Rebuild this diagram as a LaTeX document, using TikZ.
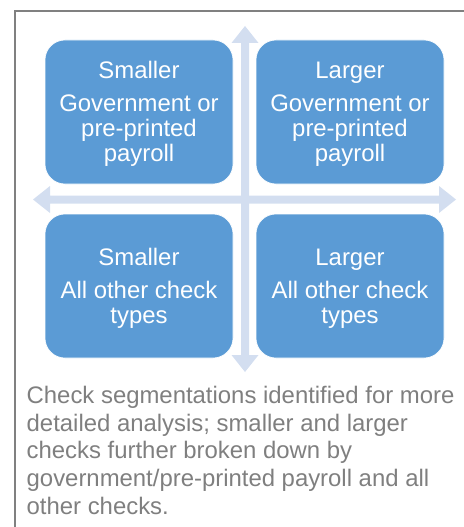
\documentclass[tikz,border=0pt]{standalone}
\usepackage{fontspec}
\setmainfont{Liberation Sans}
\definecolor{boxblue}{HTML}{5B9BD5}
\definecolor{axisblue}{HTML}{D3DEF0}
\definecolor{framegray}{HTML}{808080}
\definecolor{captiongray}{HTML}{7F7F7F}
\newcommand{\toppad}{\rule{0pt}{21.5pt}}
\tikzset{
  quadbox/.style={fill=boxblue, draw=white, line width=0.6pt, rounded corners=20pt,
    minimum width=188pt, minimum height=144pt, inner sep=0pt, text=white,
    align=center, font=\fontsize{23.9}{25}\selectfont},
  axisarrow/.style={fill=axisblue, draw=none},
  framerule/.style={draw=framegray, line width=2pt, line join=miter},
  caption/.style={text=captiongray, align=left, inner sep=0pt,
    font=\fontsize{23.9}{27.6}\selectfont}
}
\begin{document}
\begin{tikzpicture}[x=1pt,y=-1pt]
\useasboundingbox (0,0) rectangle (463,527);

% outer frame (top and left edges)
\coordinate (frameTR) at (464,11);
\coordinate (frameTL) at (15,11);
\coordinate (frameBL) at (15,527);
\draw[framerule] (frameTR) -- (frameTL) -- (frameBL);

% double-headed axes behind the quadrants
\fill[axisarrow] (241,43) -- (231.5,43) -- (245,26) -- (258.5,43) -- (249,43)
  -- (249,355) -- (258.5,355) -- (245,372) -- (231.5,355) -- (241,355) -- cycle;
\fill[axisarrow] (50,195.5) -- (50,186) -- (33,199.5) -- (50,213) -- (50,203.5)
  -- (439,203.5) -- (439,213) -- (456,199.5) -- (439,186) -- (439,195.5) -- cycle;

% quadrants
\node[quadbox] (smallgov) at (139,112) {\toppad Smaller\\[8.4pt]Government or\\pre-printed\\payroll};
\node[quadbox] (largegov) at (350,112) {\toppad Larger\\[8.4pt]Government or\\pre-printed\\payroll};
\node[quadbox] (smallother) at (139,286) {\toppad Smaller\\[8.4pt]All other check\\types};
\node[quadbox] (largeother) at (350,286) {\toppad Larger\\[8.4pt]All other check\\types};

% explanatory note (anchored at the baseline of its last line)
\node[caption, anchor=base west] (note) at (26.5,514)
  {Check segmentations identified for more\\detailed analysis; smaller and larger\\checks further broken down by\\government/pre-printed payroll and all\\other checks.};
\end{tikzpicture}
\end{document}
